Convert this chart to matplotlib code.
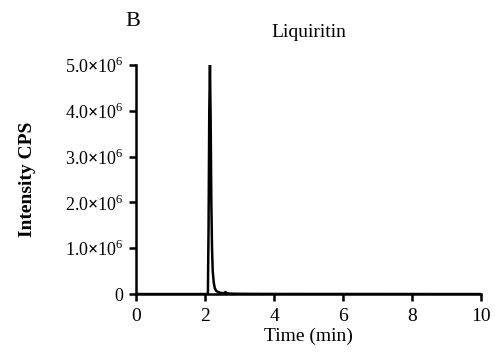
import matplotlib.pyplot as plt
from matplotlib.ticker import FixedLocator, FixedFormatter

plt.rcParams['font.family'] = ['Liberation Serif', 'DejaVu Serif']
plt.rcParams['mathtext.fontset'] = 'custom'
plt.rcParams['mathtext.rm'] = 'Liberation Serif'
plt.rcParams['mathtext.bf'] = 'Liberation Serif:bold'

# chromatogram
time_min = [0, 2.08, 2.10, 2.12, 2.14, 2.16, 2.18, 2.20, 2.22, 2.25, 2.28, 2.32, 2.38, 2.45, 2.55, 2.59, 2.62, 2.70, 3.0, 4.0, 10]
intensity = [0, 0, 1.5e6, 4.0e6, 5.0e6, 3.8e6, 2.0e6, 1.0e6, 5.0e5, 2.5e5, 1.3e5, 7.0e4, 4.0e4, 2.5e4, 2.0e4, 4.5e4, 2.0e4, 1.0e4, 5e3, 2e3, 0]

y_ticks = [0, 1e6, 2e6, 3e6, 4e6, 5e6]
y_labels = ['0'] + [r'$\mathrm{%d.0}\mathbf{\times}\mathrm{10}^{\mathrm{6}}$' % k for k in range(1, 6)]
x_ticks = [0, 2, 4, 6, 8, 10]

fig = plt.figure(figsize=(4.95, 3.56), dpi=100)
ax = fig.add_axes([0.275, 0.174, 0.697, 0.643])

ax.plot(time_min, intensity, color='black', lw=1.8)

ax.set_xlim(0, 10)
ax.set_ylim(0, 5e6)
ax.set_xticks(x_ticks)
ax.yaxis.set_major_locator(FixedLocator(y_ticks))
ax.yaxis.set_major_formatter(FixedFormatter(y_labels))

for s in ['top', 'right']:
    ax.spines[s].set_visible(False)
for s in ['left', 'bottom']:
    ax.spines[s].set_linewidth(1.8)

ax.tick_params(direction='out', length=5, width=1.8, labelsize=13, pad=4)
ax.tick_params(axis='x', labelsize=14, pad=5)
ax.set_xlabel('Time (min)', fontsize=14, labelpad=2)
ax.set_ylabel('Intensity CPS', fontsize=14, fontweight='bold')
ax.yaxis.set_label_coords(-0.29, 0.5)
ax.set_title('Liquiritin', fontsize=14, pad=20)
fig.text(0.268, 0.94, 'B', fontsize=16, ha='center', va='center')

fig.savefig('out.png', dpi=100)
